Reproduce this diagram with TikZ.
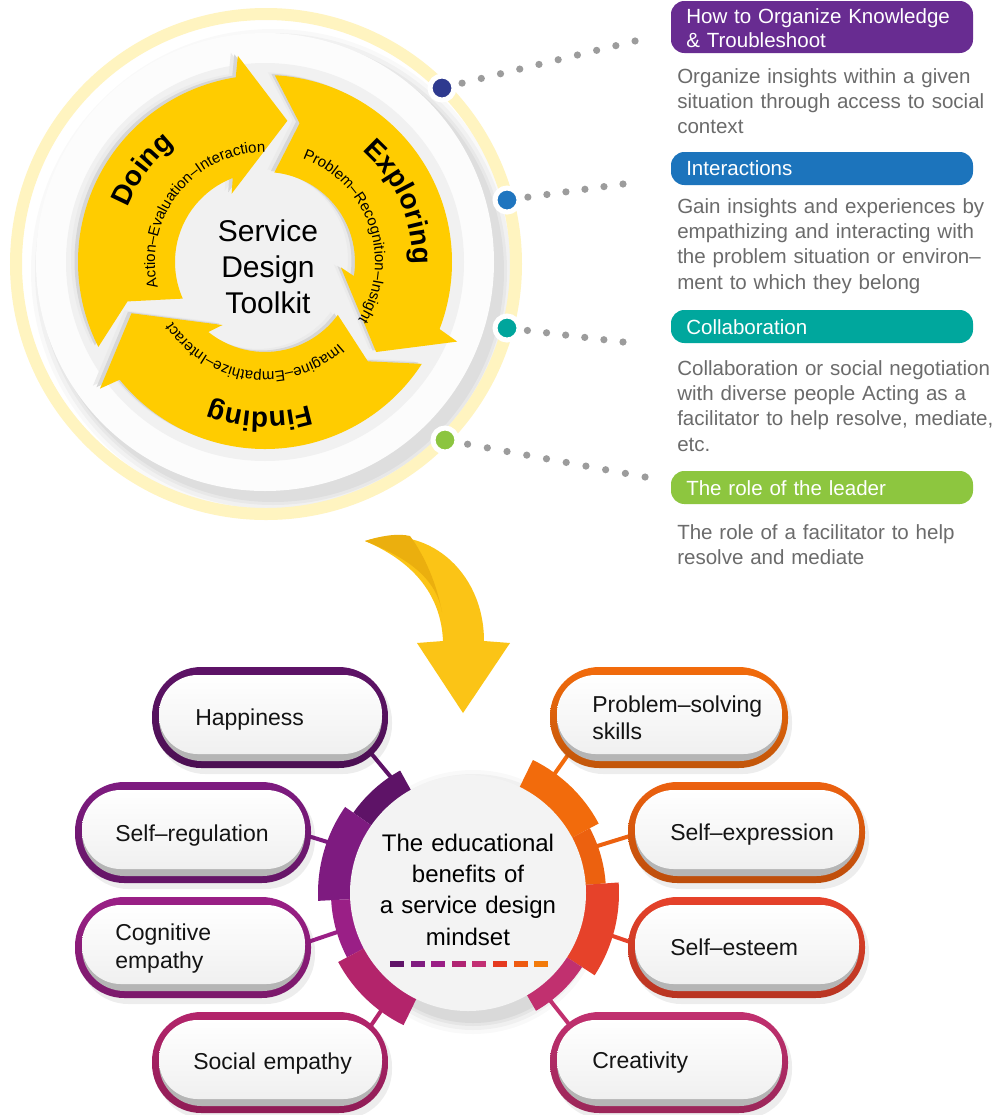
\documentclass[tikz,border=0pt]{standalone}
\usepackage{fontspec}
\setmainfont{Liberation Sans}
\usetikzlibrary{decorations.text,calc}

\definecolor{ylw}{HTML}{FFCC00}
\definecolor{ringy}{HTML}{FFF4C0}
\definecolor{discwhite}{HTML}{FCFCFC}
\definecolor{halo}{HTML}{F1F1F1}
\definecolor{cNavy}{HTML}{2E3A8F}
\definecolor{cBlue}{HTML}{1F75BF}
\definecolor{cTeal}{HTML}{00A59C}
\definecolor{cGreen}{HTML}{8CC540}
\definecolor{hPurple}{HTML}{682C91}
\definecolor{hBlue}{HTML}{1C74BC}
\definecolor{hTeal}{HTML}{00A79D}
\definecolor{hGreen}{HTML}{8DC63F}
\definecolor{descgrey}{HTML}{6B6B6B}
\definecolor{dotgrey}{HTML}{9C9C9C}
\definecolor{arrowY}{HTML}{FBC416}
\definecolor{arrowYd}{HTML}{EBAF0E}
\definecolor{bHap}{HTML}{5E1367}
\definecolor{bReg}{HTML}{7E1B80}
\definecolor{bCog}{HTML}{9A1F86}
\definecolor{bSoc}{HTML}{B3246B}
\definecolor{bPro}{HTML}{F26B0C}
\definecolor{bExp}{HTML}{EC610F}
\definecolor{bEst}{HTML}{E6422A}
\definecolor{bCre}{HTML}{C1306F}
\definecolor{pillshadow}{HTML}{B5B5B5}
\definecolor{pillface}{HTML}{F0F0F0}
\definecolor{circfill}{HTML}{F3F3F3}
\definecolor{dA}{HTML}{601468}
\definecolor{dB}{HTML}{801C80}
\definecolor{dC}{HTML}{9A1E85}
\definecolor{dD}{HTML}{B02472}
\definecolor{dE}{HTML}{C22F73}
\definecolor{dF}{HTML}{E5391F}
\definecolor{dG}{HTML}{EE5A10}
\definecolor{dH}{HTML}{F27A0A}

\newcommand\cyclepath{(207:187) arc[start angle=207, end angle=99, radius=187] -- (97.5:208) -- (81:143) -- (116:76) -- (111:90) arc[start angle=111, end angle=204, radius=90] -- (196:143) -- cycle}

\newcommand\benefitpill[5]{%
  \fill[black,opacity=0.07,rounded corners=37pt] ({#1+4},{-#2-5}) rectangle ({#3+4},{-#4-6});
  \shade[top color=#5, bottom color=#5!80!black, rounded corners=37pt] (#1,-#2) rectangle (#3,-#4);
  \fill[pillshadow, rounded corners=32pt] ({#1+7},{-#2-8}) rectangle ({#3-6},{-#4+7});
  \shade[top color=white, bottom color=pillface, rounded corners=29pt] ({#1+7},{-#2-8}) rectangle ({#3-6},{-#4+14});
}

\newcommand\ringseg[4]{\fill[#4] (#1:108) arc[start angle=#1, end angle=#2, radius=108] -- (#2:#3) arc[start angle=#2, end angle=#1, radius=#3] -- cycle;}

\begin{document}
\begin{tikzpicture}[x=0.75pt,y=0.75pt,
  hdrtext/.style={text=white, font=\fontsize{15.4}{18}\selectfont, anchor=base west, inner sep=0pt, text width=270pt, align=left},
  desctext/.style={text=descgrey, font=\fontsize{15.4}{19.1}\selectfont, anchor=base west, inner sep=0pt, text width=270pt, align=left},
  pilltext/.style={text=black!92, font=\fontsize{17.25}{21}\selectfont, anchor=base west, inner sep=0pt, text width=150pt, align=left},
  dotnode/.style={circle, draw=white, line width=3.75pt, minimum size=18pt, inner sep=0pt},
  linkline/.style={line width=3pt},
  boldarc/.style={decorate, decoration={text along path, text align=center, text={|\fontsize{21}{21}\selectfont\bfseries|#1}}},
  smallarc/.style={decorate, decoration={text along path, text align=center, text={|\fontsize{11.25}{12}\selectfont|#1}}}
]
\fill[white] (0,0) rectangle (1003,-1115);
\useasboundingbox (0,0) rectangle (1003,-1115);

% ---------- top cycle ----------
\foreach \rr/\op in {242/0.025,238/0.03,234/0.035,231/0.04}
  \fill[black,opacity=\op] (273,-271) circle[radius=\rr];
\draw[ringy, line width=9pt] (266,-264) circle[radius=250];
\fill[discwhite] (265,-262) circle[radius=229];
\fill[halo] (265,-262) circle[radius=199];

\begin{scope}[shift={(265,-262)}]
  \foreach \rot in {0,-120,-240}{
    \fill[black!8, shift={(-7,3)}, rotate=\rot] \cyclepath;
    \fill[black!16, shift={(-3.5,1.5)}, rotate=\rot] \cyclepath;
    \fill[ylw, rotate=\rot] \cyclepath;
  }
  \path[boldarc=Doing] (178:148) arc[start angle=178, end angle=108, radius=148];
  \path[boldarc=Exploring] (59:148) arc[start angle=59, end angle=-11, radius=148];
  \path[boldarc=Finding] (303:150) arc[start angle=303, end angle=233, radius=150];
  \path[smallarc=Action–Evaluation–Interaction] (200:110) arc[start angle=200, end angle=83, radius=110];
  \path[smallarc=Problem–Recognition–Insight] (78:110) arc[start angle=78, end angle=-40, radius=110];
  \path[smallarc=Imagine–Empathize–Interact] (321:110) arc[start angle=321, end angle=204, radius=110];
\end{scope}

\node[font=\fontsize{22.5}{27}\selectfont, align=center, text width=200pt, anchor=base, inner sep=0pt] (sdt) at (268,-241) {Service\\Design\\Toolkit};

% ---------- dots and dotted connectors ----------
\node[dotnode, fill=cNavy] (dNavy) at (442,-88) {};
\node[dotnode, fill=cBlue] (dBlue) at (507,-200) {};
\node[dotnode, fill=cTeal] (dTeal) at (507,-328) {};
\node[dotnode, fill=cGreen] (dGreen) at (445,-440) {};
\coordinate (eNavy) at (635,-41);
\coordinate (eBlue) at (623,-184);
\coordinate (eTeal) at (623,-342);
\coordinate (eGreen) at (645,-477);
\foreach \i in {0,...,9}{\pgfmathsetmacro\tpos{0.104+\i*0.0996}\fill[dotgrey] ($(dNavy)!\tpos!(eNavy)$) circle[radius=3.6];}
\foreach \i in {0,...,5}{\pgfmathsetmacro\tpos{0.18+\i*0.164}\fill[dotgrey] ($(dBlue)!\tpos!(eBlue)$) circle[radius=3.6];}
\foreach \i in {0,...,5}{\pgfmathsetmacro\tpos{0.176+\i*0.1648}\fill[dotgrey] ($(dTeal)!\tpos!(eTeal)$) circle[radius=3.6];}
\foreach \i in {0,...,9}{\pgfmathsetmacro\tpos{0.113+\i*0.0986}\fill[dotgrey] ($(dGreen)!\tpos!(eGreen)$) circle[radius=3.6];}

% ---------- right column ----------
\fill[hPurple, rounded corners=10pt] (671,-1) rectangle (973,-53);
\node[hdrtext] (hOrg) at (686,-23) {How to Organize Knowledge\\\& Troubleshoot};
\node[desctext] (d1) at (677,-83) {Organize insights within a given\\situation through access to social\\context};
\fill[hBlue, rounded corners=10pt] (671,-152) rectangle (973,-185);
\node[hdrtext] (hInt) at (686,-175) {Interactions};
\node[desctext] (d2) at (677,-213) {Gain insights and experiences by\\empathizing and interacting with\\the problem situation or environ–\\ment to which they belong};
\fill[hTeal, rounded corners=10pt] (671,-310) rectangle (973,-343);
\node[hdrtext] (hCol) at (686,-334) {Collaboration};
\node[desctext] (d3) at (677,-375) {Collaboration or social negotiation\\with diverse people Acting as a\\facilitator to help resolve, mediate,\\etc.};
\fill[hGreen, rounded corners=10pt] (671,-471) rectangle (973,-504);
\node[hdrtext] (hLead) at (686,-495) {The role of the leader};
\node[desctext] (d4) at (677,-539) {The role of a facilitator to help\\resolve and mediate};

% ---------- big yellow arrow ----------
\fill[arrowY] (365,-541) .. controls (425,-522) and (484,-570) .. (484,-641) -- (510,-643) -- (463,-713) -- (417,-643) -- (443,-641) .. controls (441,-592) and (410,-560) .. (365,-541) -- cycle;
\fill[arrowYd] (365,-541) .. controls (380,-536) and (398,-533) .. (410,-536) .. controls (425,-556) and (437,-585) .. (442,-612) .. controls (436,-578) and (408,-558) .. (365,-541) -- cycle;

% ---------- bottom hub ----------
\begin{scope}[shift={(468,-893)}]
  \foreach \rr/\op in {132/0.025,128/0.035,124/0.045,121/0.05}
    \fill[black,opacity=\op] (5,-9) circle[radius=\rr];
  \coordinate (sHap) at (123.5:136);
  \coordinate (sReg) at (160:146);
  \coordinate (sCog) at (196.6:135);
  \coordinate (sSoc) at (233.5:142);
  \coordinate (sPro) at (54:146);
  \coordinate (sExp) at (20:136);
  \coordinate (sEst) at (-16.5:148);
  \coordinate (sCre) at (-52.6:134);
\end{scope}
\coordinate (pHap) at (370,-752);
\coordinate (pReg) at (305,-835);
\coordinate (pCog) at (305,-943);
\coordinate (pSoc) at (370,-1027);
\coordinate (pPro) at (570,-752);
\coordinate (pExp) at (633,-835);
\coordinate (pEst) at (633,-943);
\coordinate (pCre) at (572,-1028);
\draw[linkline, bHap] (sHap) -- (pHap);
\draw[linkline, bReg] (sReg) -- (pReg);
\draw[linkline, bCog] (sCog) -- (pCog);
\draw[linkline, bSoc] (sSoc) -- (pSoc);
\draw[linkline, bPro] (sPro) -- (pPro);
\draw[linkline, bExp] (sExp) -- (pExp);
\draw[linkline, bEst] (sEst) -- (pEst);
\draw[linkline, bCre] (sCre) -- (pCre);

\begin{scope}[shift={(468,-893)}]
  \ringseg{119}{145}{140}{bHap}
  \ringseg{145}{183}{150}{bReg}
  \ringseg{183}{208}{137}{bCog}
  \ringseg{208}{244}{147}{bSoc}
  \ringseg{28}{64}{148}{bPro}
  \ringseg{4}{28}{138}{bExp}
  \ringseg{-33}{4}{151}{bEst}
  \ringseg{-60}{-33}{136}{bCre}
  \fill[circfill] (0,0) circle[radius=118];
\end{scope}
\node[font=\fontsize{18}{23.5}\selectfont, align=center, text width=220pt, anchor=base, inner sep=0pt] (hub) at (468,-851) {The educational\\benefits of\\a service design\\mindset};
\foreach \c [count=\i from 0] in {dA,dB,dC,dD,dE,dF,dG,dH}
  \fill[\c] ({390+\i*20.6},-961) rectangle ++(14,-6);

% ---------- benefit pills ----------
\benefitpill{152}{667}{388}{768}{bHap}
\node[pilltext] (tHap) at (195,-725) {Happiness};
\benefitpill{75}{782}{311}{883}{bReg}
\node[pilltext] (tReg) at (115,-841) {Self–regulation};
\benefitpill{75}{897}{311}{998}{bCog}
\node[pilltext] (tCog) at (115,-940) {Cognitive\\empathy};
\benefitpill{152}{1012}{388}{1113}{bSoc}
\node[pilltext] (tSoc) at (193,-1069) {Social empathy};
\benefitpill{550}{667}{788}{768}{bPro}
\node[pilltext, font=\fontsize{17.25}{20.25}\selectfont] (tPro) at (592,-712) {Problem–solving\\skills};
\benefitpill{628}{782}{865}{883}{bExp}
\node[pilltext] (tExp) at (670,-840) {Self–expression};
\benefitpill{628}{897}{865}{998}{bEst}
\node[pilltext] (tEst) at (670,-955) {Self–esteem};
\benefitpill{550}{1012}{788}{1113}{bCre}
\node[pilltext] (tCre) at (592,-1068) {Creativity};
\end{tikzpicture}
\end{document}
